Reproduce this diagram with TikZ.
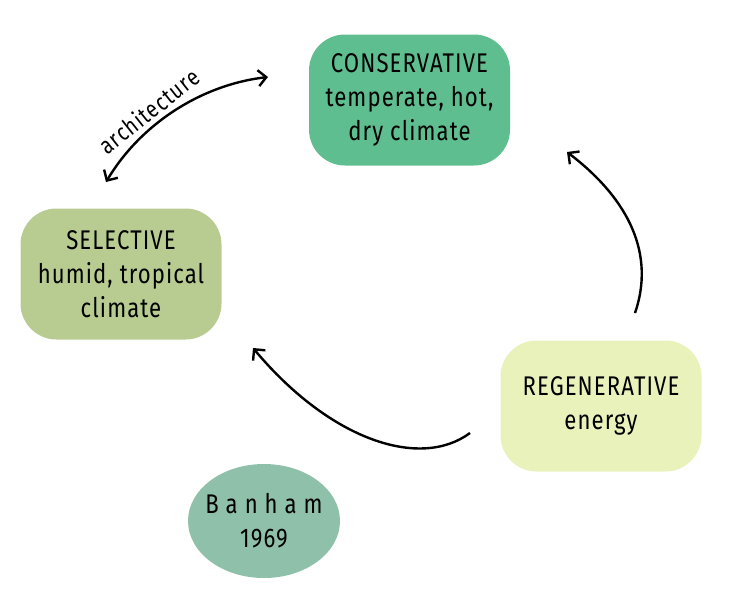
\documentclass[tikz,border=0pt]{standalone}
\usepackage{fontspec}
\setmainfont{Fira Sans}[FakeStretch=0.82, LetterSpace=4]
\newfontfamily\archfont{Fira Sans}[FakeStretch=0.82]
\usetikzlibrary{arrows.meta,shapes.geometric}
\definecolor{cons}{RGB}{94,190,143}
\definecolor{sel}{RGB}{184,204,146}
\definecolor{regen}{RGB}{234,242,188}
\definecolor{ban}{RGB}{143,192,170}
\begin{document}
\begin{tikzpicture}[x=1pt,y=-1pt,
  box/.style={rounded corners=36pt, minimum width=201pt, minimum height=131pt, align=center, font=\fontsize{27}{34}\selectfont, inner sep=0pt},
  conn/.style={line width=2.4pt, -{Straight Barb[length=8pt,width=16pt,line width=2.4pt]}}]
\useasboundingbox (0,0) rectangle (729,600);
\node[box, fill=cons] (cons) at (409.5,100) {CONSERVATIVE\\temperate, hot,\\dry climate};
\node[box, fill=sel] (sel) at (121,274) {SELECTIVE\\humid, tropical\\climate};
\node[box, fill=regen] (regen) at (601,406) {REGENERATIVE\\energy};
\node[ellipse, fill=ban, minimum width=152pt, minimum height=114pt, inner sep=0pt] (ban) at (264,521) {};
\node[align=center, inner sep=0pt, font=\fontsize{27}{34}\selectfont] (bantext) at (ban.center) {B\hspace{7pt}a\hspace{7pt}n\hspace{7pt}h\hspace{7pt}a\hspace{7pt}m\\1969};
\coordinate (a1) at (106,182);
\coordinate (a2) at (268,77);
\coordinate (r1) at (635,313);
\coordinate (r2) at (567,152);
\coordinate (b1) at (470,433);
\coordinate (b2) at (253,348);
\draw[line width=2.4pt, {Straight Barb[length=8pt,width=16pt,line width=2.4pt]}-{Straight Barb[length=8pt,width=16pt,line width=2.4pt]}] (a1) .. controls (140,125) and (200,85) .. node[pos=0.4, sloped, above=1pt, font=\archfont\fontsize{24}{26}\selectfont] (arch) {a\hspace{1pt}r\hspace{1pt}c\hspace{1pt}h\hspace{1pt}i\hspace{1pt}t\hspace{1pt}e\hspace{1pt}c\hspace{1pt}t\hspace{1pt}u\hspace{1pt}r\hspace{1pt}e} (a2);
\draw[conn] (r1) .. controls (655,255) and (630,200) .. (r2);
\draw[conn] (b1) .. controls (420,470) and (330,440) .. (b2);
\end{tikzpicture}
\end{document}
